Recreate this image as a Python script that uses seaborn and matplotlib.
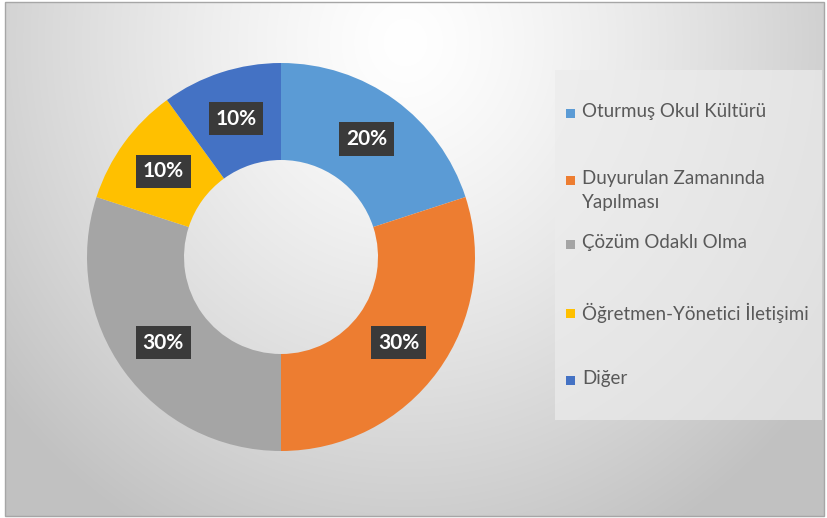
import numpy as np
import matplotlib
matplotlib.use("Agg")
import matplotlib.pyplot as plt
from matplotlib.patches import Rectangle
import seaborn as sns

categories = ["Oturmuş Okul Kültürü", "Duyurulan Zamanında Yapılması",
              "Çözüm Odaklı Olma", "Öğretmen-Yönetici İletişimi", "Diğer"]
legend_labels = ["Oturmuş Okul Kültürü", "Duyurulan Zamanında\nYapılması",
                 "Çözüm Odaklı Olma", "Öğretmen-Yönetici İletişimi", "Diğer"]
values = [20, 30, 30, 10, 10]
colors = ["#5B9BD5", "#ED7D31", "#A5A5A5", "#FFC000", "#4472C4"]

sns.set_theme(style="white")
plt.rcParams["font.family"] = ["Lato", "DejaVu Sans"]

W, H = 828, 518
fig = plt.figure(figsize=(W / 100, H / 100), dpi=100)
fig.patch.set_facecolor("white")

# background radial gradient inside frame
bg = fig.add_axes([5 / W, 2 / H, 819 / W, 514 / H])
yy, xx = np.mgrid[0:514, 0:819]
cx, cy = 400, 40
d = np.sqrt(((xx - cx) / 520.0) ** 2 + ((yy - cy) / 560.0) ** 2)
d = np.clip(d, 0, 1)
g = 1.0 - 0.24 * d ** 1.3
img = np.dstack([g, g, g])
bg.imshow(img, aspect="auto", interpolation="bilinear")
bg.set_axis_off()
fig.patches.append(Rectangle((5 / W, 2 / H), 819 / W, 514 / H, transform=fig.transFigure,
                             fill=False, edgecolor="#a6a6a6", linewidth=1.0, zorder=5))

# donut
R = 194.0
cxp, cyp = 281, 257
ax = fig.add_axes([(cxp - 200) / W, (H - cyp - 200) / H, 400 / W, 400 / H])
ax.patch.set_alpha(0)
sns.set_palette(colors)
wedges, _ = ax.pie(values, colors=colors, startangle=90, counterclock=False, radius=1.0,
                   wedgeprops=dict(width=0.5, linewidth=0))
ax.set_xlim(-200 / R, 200 / R)
ax.set_ylim(-200 / R, 200 / R)
ax.set_axis_off()
total = sum(values)
for w, v in zip(wedges, values):
    ang = np.deg2rad((w.theta1 + w.theta2) / 2)
    r = 1.0 - 0.5 / 2
    ax.text(r * np.cos(ang), r * np.sin(ang), f"{round(v / total * 100)}%",
            ha="center", va="center", color="white", fontsize=15, fontweight="bold",
            bbox=dict(boxstyle="square,pad=0.33", facecolor="#3a3a3a", edgecolor="none"))

# legend box
lx0, ly0, lx1, ly1 = 555, 70, 822, 420
fig.patches.append(Rectangle((lx0 / W, 1 - ly1 / H), (lx1 - lx0) / W, (ly1 - ly0) / H,
                             transform=fig.transFigure, facecolor="#ececec", alpha=0.7,
                             edgecolor="none", zorder=3))
ys = [113, 180, 244, 313, 380]
for lab, col, y in zip(legend_labels, colors, ys):
    fig.patches.append(Rectangle((566 / W, 1 - (y + 5) / H), 9 / W, 9 / H,
                                 transform=fig.transFigure, facecolor=col,
                                 edgecolor="none", zorder=4))
    fig.text(582 / W, 1 - (y - 10) / H, lab, ha="left", va="top", fontsize=13.5,
             color="#595959", linespacing=1.5, zorder=4)

fig.savefig("out.png", dpi=100)
